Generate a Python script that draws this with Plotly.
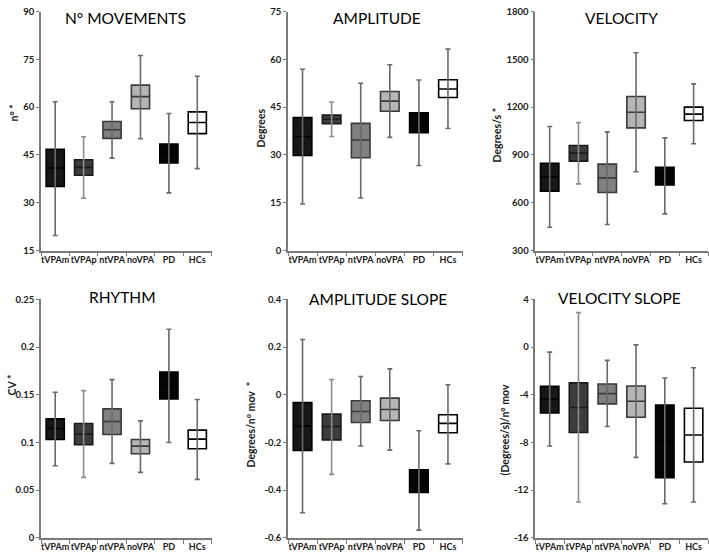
import plotly.graph_objects as go

categories = ["tVPAm", "tVPAp", "ntVPA", "noVPA", "PD", "HCs"]

# N° MOVEMENTS
mov_low = [19.7, 31.4, 44.0, 50.1, 33.1, 40.7]
mov_q1 = [35.1, 38.6, 50.2, 59.5, 42.5, 51.7]
mov_med = [40.9, 41.1, 52.9, 63.3, 45.5, 55.2]
mov_q3 = [46.8, 43.5, 55.5, 66.9, 48.4, 58.5]
mov_high = [61.7, 50.7, 61.7, 76.2, 58.0, 69.7]

# AMPLITUDE
amp_low = [14.6, 35.8, 16.5, 35.5, 26.7, 38.3]
amp_q1 = [29.8, 39.8, 29.1, 43.7, 37.0, 48.0]
amp_med = [35.8, 41.2, 34.7, 46.9, 40.0, 50.7]
amp_q3 = [41.7, 42.5, 39.9, 49.9, 43.2, 53.6]
amp_high = [56.9, 46.6, 52.5, 58.3, 53.5, 63.2]

# VELOCITY
vel_low = [446, 718, 463, 794, 530, 970]
vel_q1 = [672, 861, 664, 1070, 712, 1116]
vel_med = [764, 911, 756, 1168, 770, 1156]
vel_q3 = [848, 959, 842, 1267, 823, 1200]
vel_high = [1078, 1103, 1045, 1541, 1007, 1346]

# RHYTHM
rhy_low = [0.0756, 0.0634, 0.078, 0.0686, 0.100, 0.0613]
rhy_q1 = [0.1031, 0.0976, 0.1084, 0.0882, 0.1456, 0.0934]
rhy_med = [0.1146, 0.1087, 0.122, 0.0962, 0.160, 0.1035]
rhy_q3 = [0.1247, 0.1199, 0.1352, 0.1031, 0.1739, 0.1129]
rhy_high = [0.1526, 0.1544, 0.1659, 0.1226, 0.2188, 0.145]

# AMPLITUDE SLOPE
asl_low = [-0.495, -0.334, -0.215, -0.232, -0.568, -0.29]
asl_q1 = [-0.234, -0.189, -0.116, -0.108, -0.41, -0.159]
asl_med = [-0.131, -0.133, -0.070, -0.062, -0.36, -0.12]
asl_q3 = [-0.032, -0.081, -0.025, -0.014, -0.315, -0.084]
asl_high = [0.232, 0.064, 0.077, 0.109, -0.151, 0.042]

# VELOCITY SLOPE
vsl_low = [-8.3, -13.0, -6.66, -9.25, -13.15, -13.0]
vsl_q1 = [-5.52, -7.16, -4.76, -5.88, -10.95, -9.64]
vsl_med = [-4.37, -5.07, -3.9, -4.54, -7.88, -7.38]
vsl_q3 = [-3.29, -3.0, -3.09, -3.26, -4.85, -5.13]
vsl_high = [-0.42, 2.9, -1.11, 0.19, -2.59, -1.73]

titles = ["N° MOVEMENTS", "AMPLITUDE", "VELOCITY", "RHYTHM", "AMPLITUDE SLOPE", "VELOCITY SLOPE"]
ytitles = ["n° *", "Degrees", "Degrees/s *", "CV *", "Degrees/n° mov  *", "(Degrees/s)/n° mov"]

ytick_vals = [
    [15, 30, 45, 60, 75, 90],
    [0, 15, 30, 45, 60, 75],
    [300, 600, 900, 1200, 1500, 1800],
    [0, 0.05, 0.1, 0.15, 0.2, 0.25],
    [-0.6, -0.4, -0.2, 0, 0.2, 0.4],
    [-16, -12, -8, -4, 0, 4],
]
ytick_text = [
    ["15", "30", "45", "60", "75", "90"],
    ["0", "15", "30", "45", "60", "75"],
    ["300", "600", "900", "1200", "1500", "1800"],
    ["0", "0.05", "0.1", "0.15", "0.2", "0.25"],
    ["-0.6", "-0.4", "-0.2", "0", "0.2", "0.4"],
    ["-16", "-12", "-8", "-4", "0", "4"],
]

panels = [
    (mov_low, mov_q1, mov_med, mov_q3, mov_high),
    (amp_low, amp_q1, amp_med, amp_q3, amp_high),
    (vel_low, vel_q1, vel_med, vel_q3, vel_high),
    (rhy_low, rhy_q1, rhy_med, rhy_q3, rhy_high),
    (asl_low, asl_q1, asl_med, asl_q3, asl_high),
    (vsl_low, vsl_q1, vsl_med, vsl_q3, vsl_high),
]

fills = ["#161616", "#3c3c3c", "#808080", "#b5b5b5", "#050505", "#ffffff"]
lines = ["#000000", "#1a1a1a", "#3a3a3a", "#3a3a3a", "#000000", "#000000"]
whisk = ["#6a6a6a", "#8c8c8c", "#6a6a6a", "#6a6a6a", "#6a6a6a", "#6a6a6a"]

W, H = 709, 556
K = 1.02  # vertical spread correction about the page centre


def vy(py):
    return H / 2 + (py - H / 2) * K


xdom_px = [(41, 211.5), (288, 462.5), (535.3, 708)]
ydom_px = [(11, 250), (299, 537.3)]

fig = go.Figure()
layout = {}
annotations = []

title_pos = [(125, 17), (377, 17), (621, 17), (122, 297), (378, 299), (619, 298)]
ytitle_pos = [(14, 113), (261, 128), (497, 135), (12, 385), (251, 424), (505, 430)]

for i, (lo, q1, med, q3, hi) in enumerate(panels):
    r, c = divmod(i, 3)
    n = i + 1
    xa = "x" if n == 1 else f"x{n}"
    ya = "y" if n == 1 else f"y{n}"
    for j, cat in enumerate(categories):
        fig.add_trace(go.Scatter(
            x=[cat], y=[med[j]], mode="markers",
            marker=dict(size=1, opacity=0),
            error_y=dict(type="data", symmetric=False,
                         array=[hi[j] - med[j]], arrayminus=[med[j] - lo[j]],
                         color=whisk[j], thickness=1.6, width=2.5),
            xaxis=xa, yaxis=ya, showlegend=False, hoverinfo="skip"))
    for j, cat in enumerate(categories):
        fig.add_trace(go.Box(
            x=[cat], q1=[q1[j]], median=[med[j]], q3=[q3[j]],
            lowerfence=[q1[j]], upperfence=[q3[j]],
            fillcolor=fills[j], line=dict(color=lines[j], width=1.6),
            width=0.64, xaxis=xa, yaxis=ya, showlegend=False,
            boxpoints=False))
    x0, x1 = xdom_px[c]
    y0, y1 = vy(ydom_px[r][0]), vy(ydom_px[r][1])
    key_x = "xaxis" if n == 1 else f"xaxis{n}"
    key_y = "yaxis" if n == 1 else f"yaxis{n}"
    layout[key_x] = dict(
        domain=[x0 / W, x1 / W], anchor=ya, type="category",
        categoryorder="array", categoryarray=categories,
        range=[-0.5, 5.5], showgrid=False, zeroline=False,
        showline=True, linecolor="#7a7a7a", linewidth=1.5,
        ticks="outside", tickson="boundaries", ticklen=4, tickcolor="#7a7a7a",
        tickangle=0,
        tickfont=dict(family="Lato", size=9, color="#1a1a1a", weight="bold"),
    )
    vals = ytick_vals[i]
    layout[key_y] = dict(
        domain=[max(0, 1 - y1 / H), min(1, 1 - y0 / H)], anchor=xa,
        range=[vals[0], vals[-1]], tickvals=vals, ticktext=ytick_text[i],
        showgrid=False, zeroline=False, showline=True,
        linecolor="#7a7a7a", linewidth=1.5, ticks="outside", ticklen=3,
        tickcolor="#7a7a7a",
        tickfont=dict(family="Lato", size=9.5, color="#1a1a1a", weight="bold"),
    )
    tx, ty = title_pos[i]
    annotations.append(dict(
        text=titles[i], x=tx / W, y=1 - vy(ty) / H, xref="paper", yref="paper",
        showarrow=False, xanchor="center", yanchor="middle",
        font=dict(family="Lato", size=15.5, color="#000000")))
    ax_, ay_ = ytitle_pos[i]
    annotations.append(dict(
        text=ytitles[i], x=ax_ / W, y=1 - vy(ay_) / H, xref="paper", yref="paper",
        showarrow=False, xanchor="center", yanchor="middle", textangle=-90,
        font=dict(family="Lato", size=10.5, color="#1a1a1a", weight="bold")))

fig.update_layout(
    width=W, height=H, margin=dict(l=0, r=0, t=0, b=0),
    paper_bgcolor="white", plot_bgcolor="white",
    boxmode="overlay", annotations=annotations, **layout)

page_fix = (
    "var d=document.documentElement,b=document.body;"
    "d.style.margin='0';d.style.padding='0';d.style.overflow='hidden';"
    "b.style.margin='0';b.style.padding='0';b.style.overflow='hidden';"
)

fig.write_html(
    "out.html",
    config={"displayModeBar": False},
    post_script=page_fix,
)
